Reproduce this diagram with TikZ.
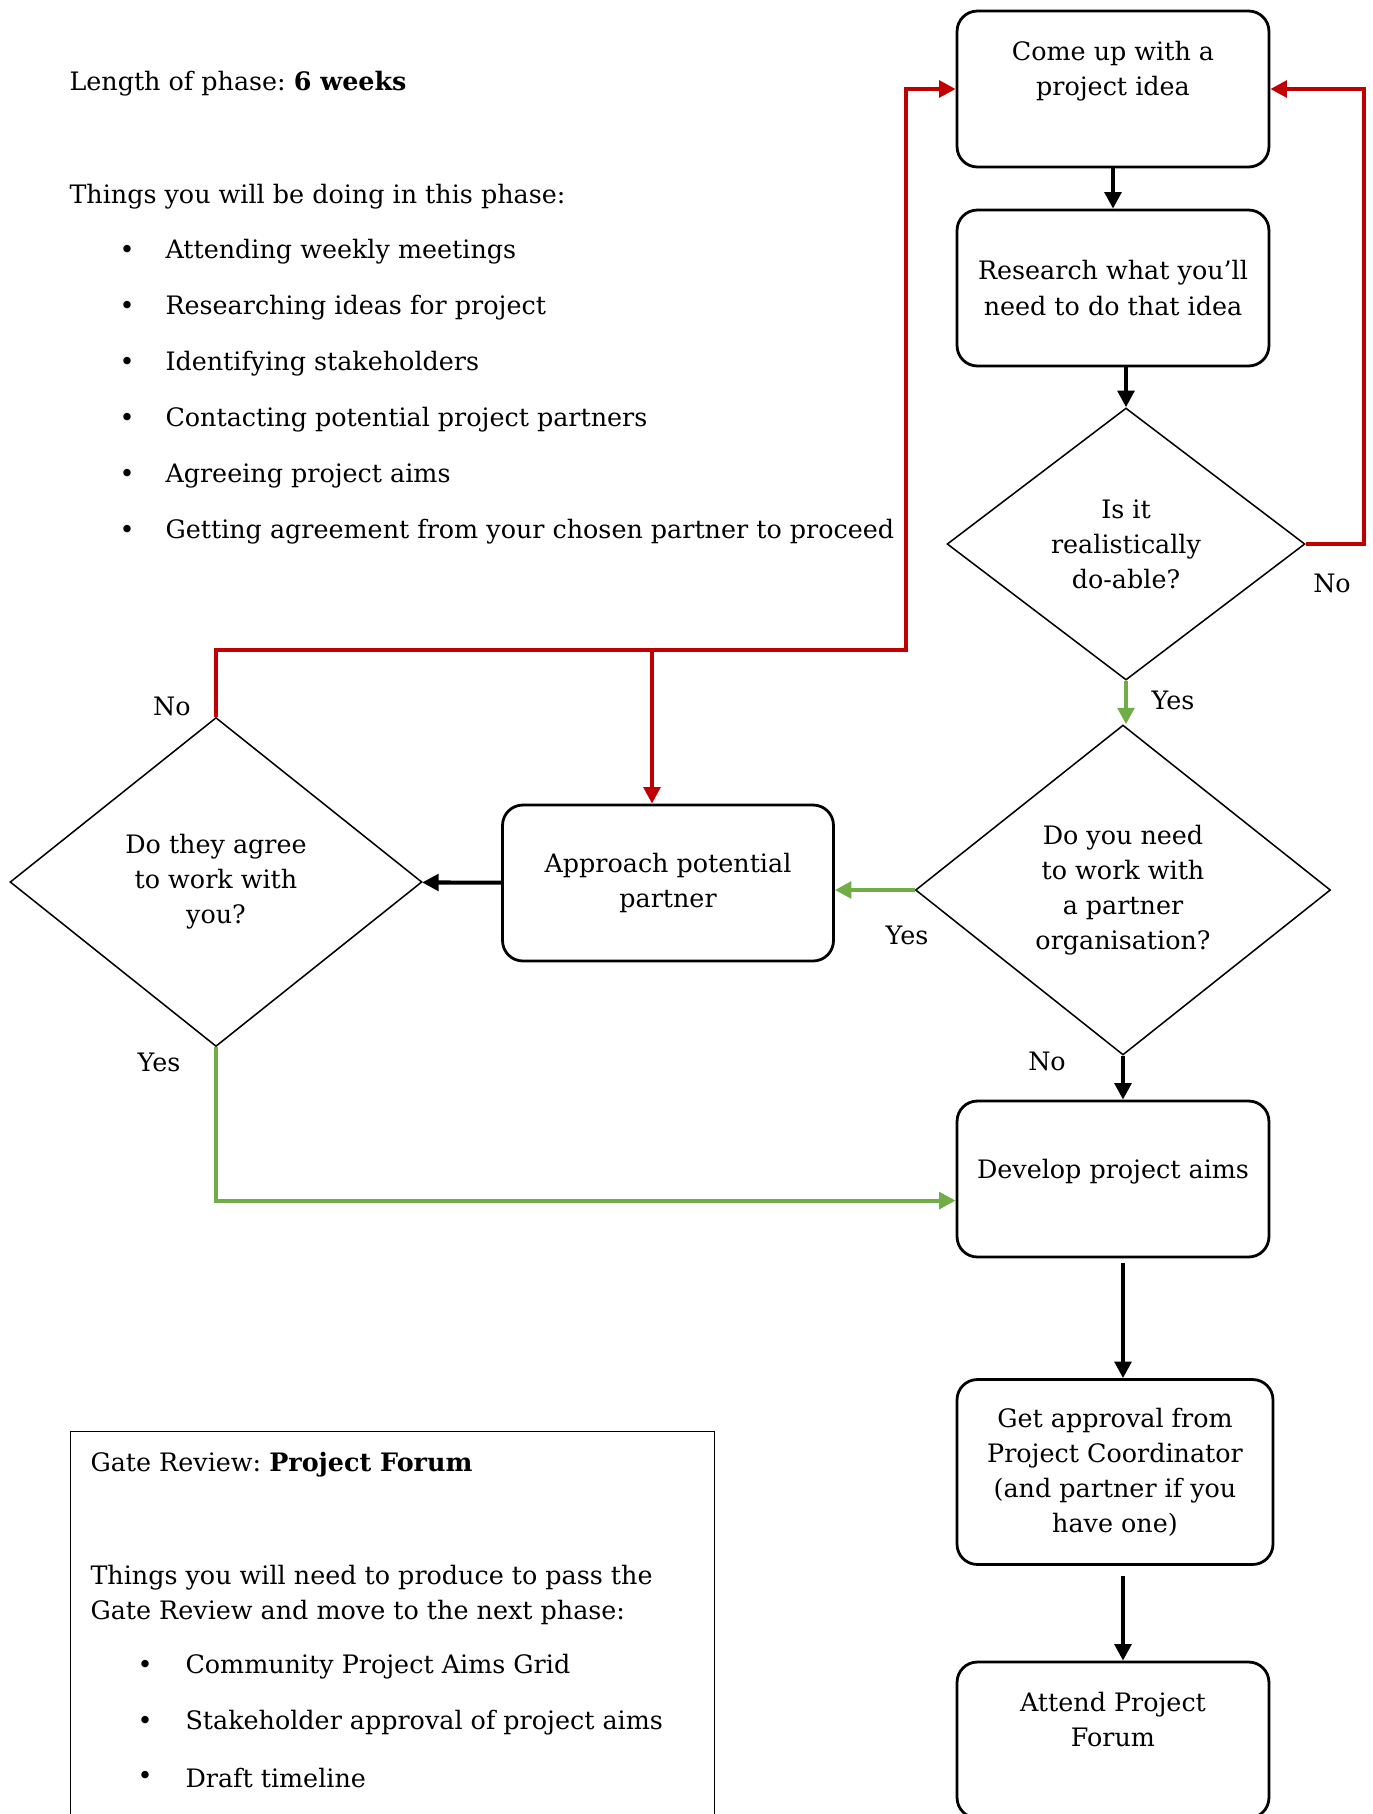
\documentclass[tikz,border=0pt]{standalone}
\usepackage{fontspec}
\setmainfont{DejaVu Serif}
\usetikzlibrary{arrows.meta,positioning,shapes.geometric}

\definecolor{nored}{HTML}{C00000}
\definecolor{yesgreen}{HTML}{70AD47}
\newcommand{\flowfont}{\frenchspacing\fontsize{10}{13.8}\selectfont}

\tikzset{
    stepbox/.style={draw, line width=1.1pt, rounded corners=8pt,
        minimum width=122.8pt, minimum height=61.4pt,
        align=center, font=\flowfont},
    choice/.style={draw, diamond, line width=0.6pt, aspect=1.3,
        inner sep=0pt, align=center, font=\flowfont},
    flow/.style={line width=1.6pt, -{Triangle[length=6.5pt,width=6.5pt]}},
    noflow/.style={flow, nored},
    yesflow/.style={flow, yesgreen},
    answer/.style={font=\flowfont},
    listtext/.style={anchor=west, inner sep=0pt, font=\flowfont},
}

\begin{document}
\begin{tikzpicture}[x=0.3937pt, y=-0.3937pt]
\clip (0,0) rectangle (1373,1814);

\node[listtext] (length) at (69,84) {Length of phase: \textbf{6 weeks}};
\node[listtext] (doing) at (69,197) {Things you will be doing in this phase:};
\foreach \job [count=\i] in {Attending weekly meetings, Researching ideas for project,
    Identifying stakeholders, Contacting potential project partners,
    Agreeing project aims, Getting agreement from your chosen partner to proceed}{
    \node[listtext] (dot-\i) at (119, {252+56*(\i-1)}) {\textbullet};
    \node[listtext] (job-\i) at (165, {252+56*(\i-1)}) {\job};
}

\node[stepbox, text depth=16pt] (idea) at (1113,89) {Come up with a\\project idea};
\node[stepbox] (research) at (1113,288) {Research what you’ll\\need to do that idea};
\node[choice, minimum width=140.9pt, minimum height=107.1pt] (doable) at (1126,544)
    {Is it\\realistically\\do-able?};
\node[choice, minimum width=163.4pt, minimum height=129.9pt] (partner) at (1123,890)
    {Do you need\\to work with\\a partner\\organisation?};
\node[stepbox, minimum width=130.3pt] (approach) at (668,883) {Approach potential\\partner};
\node[choice, minimum width=162.2pt, minimum height=129.5pt] (agree) at (216,882)
    {Do they agree\\to work with\\you?};
\node[stepbox, text depth=8pt] (aims) at (1113,1179) {Develop project aims};
\node[stepbox, minimum width=124.4pt, minimum height=72.8pt] (approval) at (1115,1472)
    {Get approval from\\Project Coordinator\\(and partner if you\\have one)};
\node[stepbox, text depth=16pt] (forum) at (1113,1740) {Attend Project\\Forum};

\node[answer] (no-1) at (1332,583) {No};
\node[answer] (yes-1) at (1173,700) {Yes};
\node[answer] (no-2) at (172,706) {No};
\node[answer] (yes-2) at (159,1062) {Yes};
\node[answer] (yes-3) at (907,935) {Yes};
\node[answer] (no-3) at (1047,1061) {No};

\coordinate (rightrail) at (1364,0);
\coordinate (redjoin) at (906,650);

\draw[flow] (idea) -- (research);
\draw[flow] (research.south -| doable.north) -- (doable.north);
\draw[yesflow] (doable.south) -- (doable.south |- partner.north);
\draw[noflow] (doable.east) -- (doable.east -| rightrail) |- (idea.east);
\draw[yesflow] (partner.west) -- (partner.west -| approach.east);
\draw[flow] (partner.south) -- (partner.south |- aims.north);
\draw[flow] (approach) -- (agree);
\draw[noflow] (agree.north) |- (redjoin) |- (idea.west);
\draw[noflow] ([xshift=-6.3pt]redjoin -| approach.north) -- ([xshift=-6.3pt]approach.north);
\draw[yesflow] (agree.south) |- ([yshift=-8.5pt]aims.west);
\draw[flow, shorten <=2pt] (aims.south -| partner.south) -- (approval.north -| partner.south);
\draw[flow, shorten <=4pt] (approval.south -| partner.south) -- (forum.north -| partner.south);

\node[draw, line width=0.4pt, anchor=north west, minimum width=253.5pt,
    minimum height=160pt] (gate) at (70,1431) {};
\node[listtext] (gate-title) at (90,1465) {Gate Review: \textbf{Project Forum}};
\node[listtext, align=left] (produce) at (90,1595)
    {Things you will need to produce to pass the\\Gate Review and move to the next phase:};
\foreach \item [count=\i] in {Community Project Aims Grid,
    Stakeholder approval of project aims, Draft timeline}{
    \node[listtext] (gdot-\i) at (137, {1667+55.5*(\i-1)}) {\textbullet};
    \node[listtext] (gitem-\i) at (185, {1667+55.5*(\i-1)}) {\item};
}
\end{tikzpicture}
\end{document}
